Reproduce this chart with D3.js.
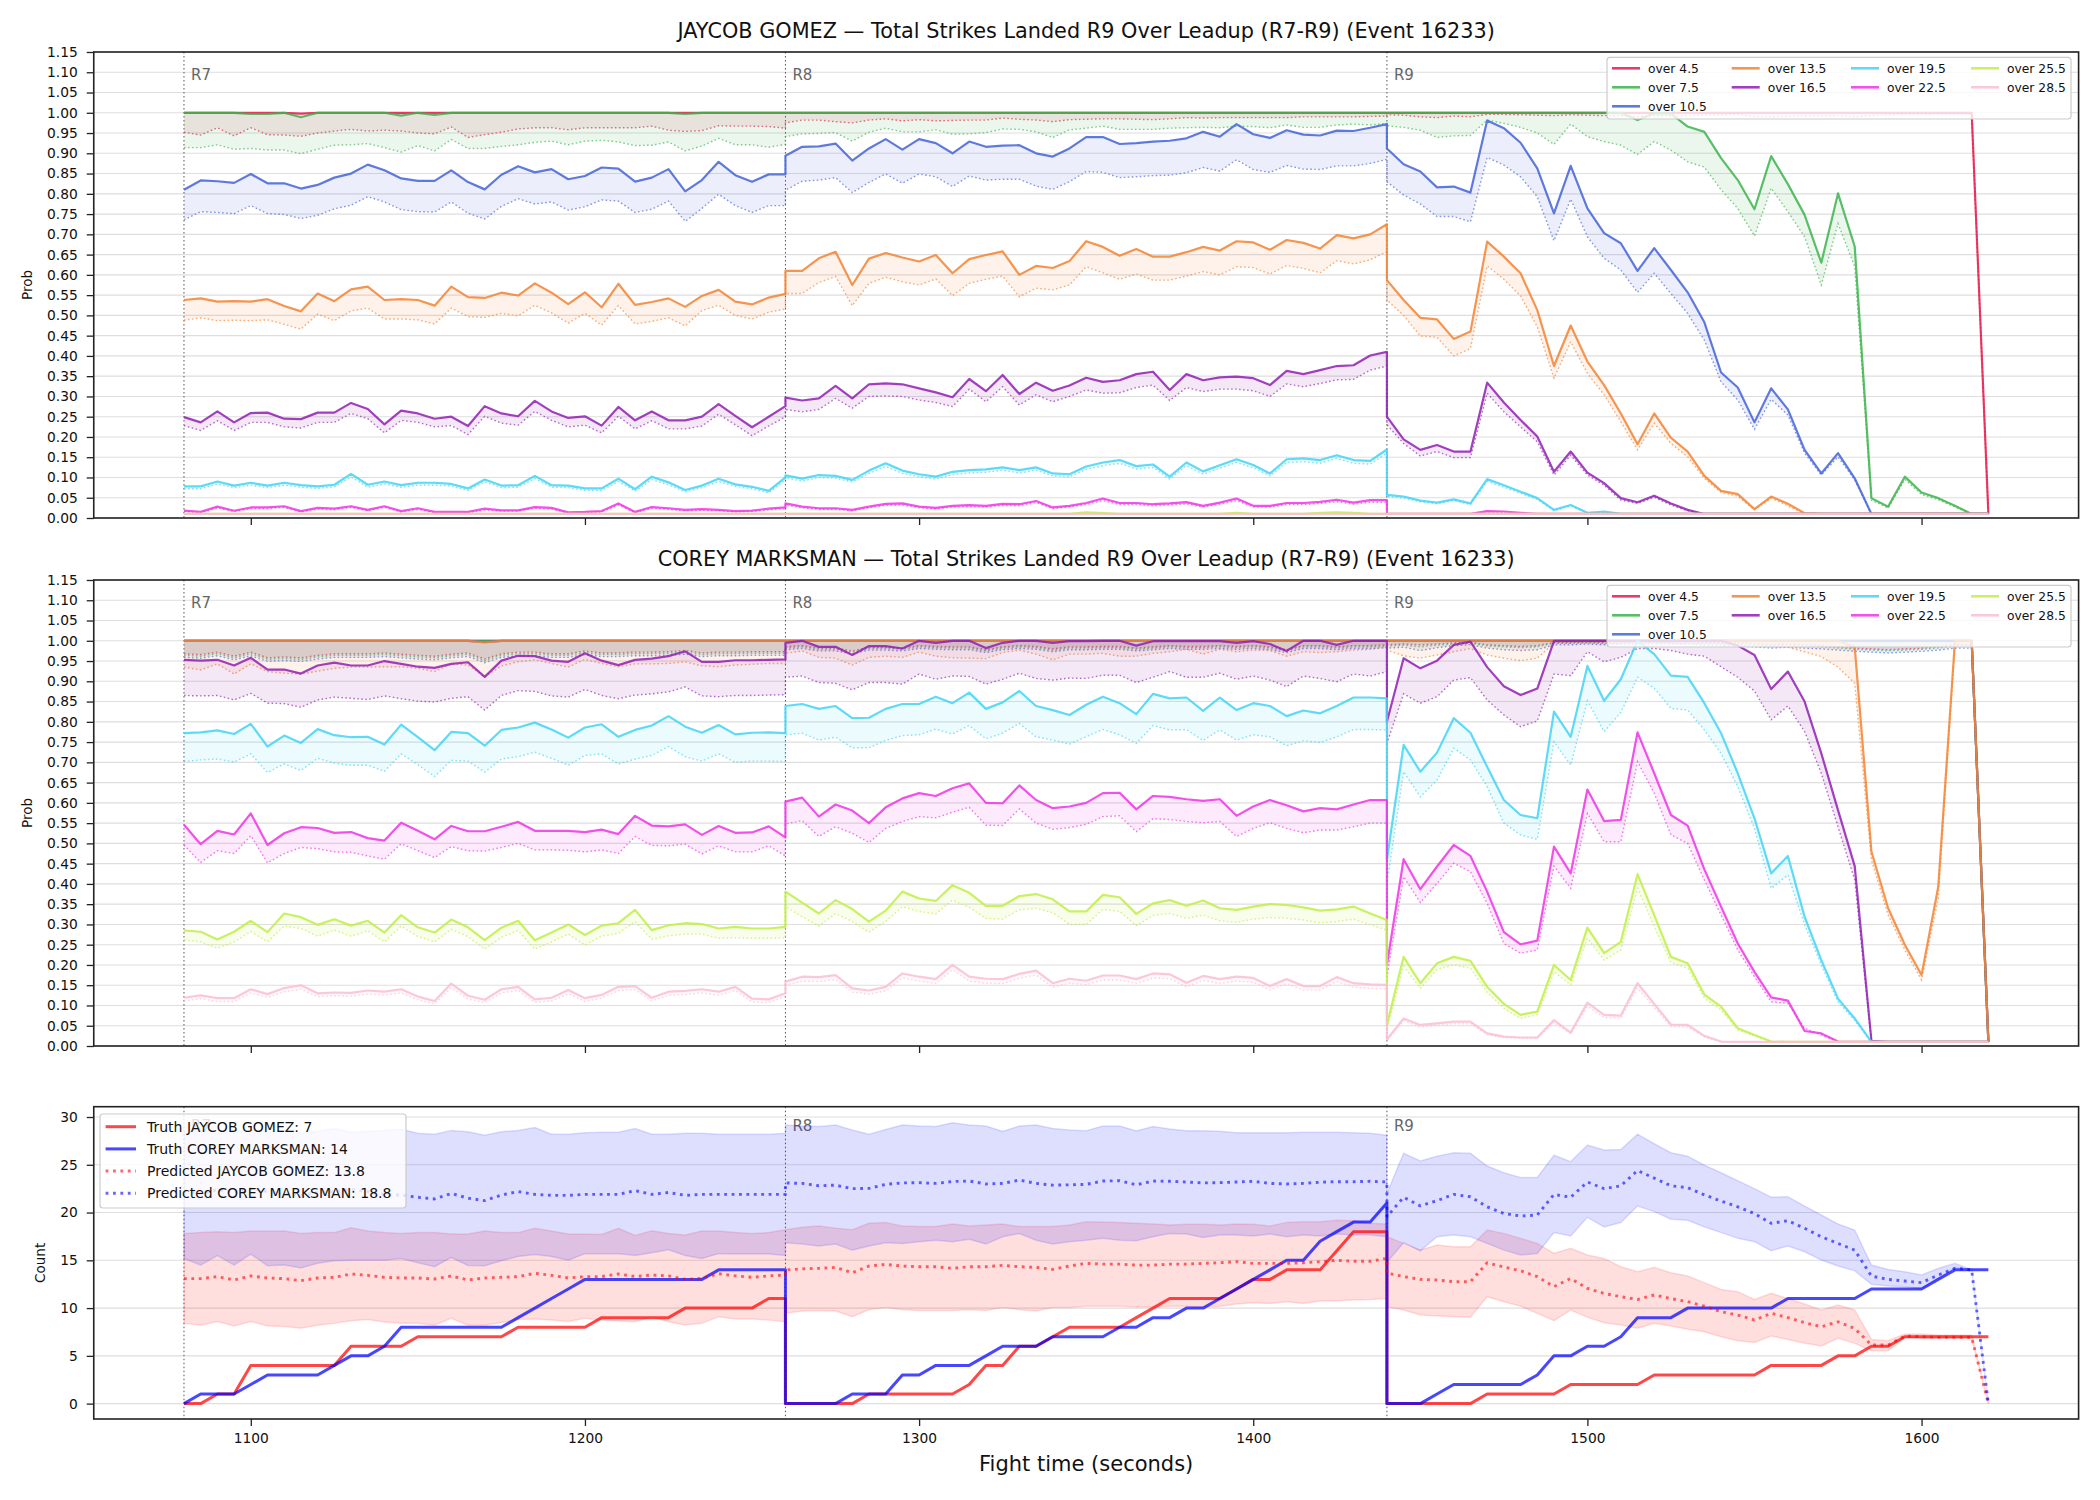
<!DOCTYPE html>
<html>
<head>
<meta charset="utf-8">
<script src="https://cdn.jsdelivr.net/npm/d3@7"></script>
<style>
  body { margin: 0; background: #fff; }
  svg text { font-family: "DejaVu Sans", sans-serif; }
</style>
</head>
<body>
<svg id="chart" width="2100" height="1500"></svg>
<script>
// rounds, sampled every 5 s (each round keeps its own 37 points, so boundaries are vertical jumps)
const roundStarts = [1080, 1260, 1440];
const roundNames = ["R7", "R8", "R9"];
const offsets = d3.range(0, 181, 5);
const times = roundStarts.flatMap(s => offsets.map(o => s + o));

const lineLabels = ["over 4.5", "over 7.5", "over 10.5", "over 13.5", "over 16.5",
                    "over 19.5", "over 22.5", "over 25.5", "over 28.5"];
const lineColors = ["#e6194b", "#3cb44b", "#4363d8", "#f58231", "#911eb4",
                    "#42d4f4", "#f032e6", "#bfef45", "#fabed4"];
const xTicks = [1100, 1200, 1300, 1400, 1500, 1600];
const probTicks = d3.range(0, 24).map(i => i / 20);
const countTicks = [0, 5, 10, 15, 20, 25, 30];

// ---- JAYCOB GOMEZ: solid = current prob, dot = dotted reference line ----
const g45 = [1,1,1,1,1,1,1,0.998,1,1, 1,1,1,1,1,1,1,1,1,1, 1,1,1,1,1,1,1,1,1,1, 1,1,1,1,1,1,1,
  1,1,1,1,1,1,1,1,1,1, 1,1,1,1,1,1,1,1,1,1, 1,1,1,1,1,1,1,1,1,1, 1,1,1,1,1,1,1,
  1,1,1,1,1,1,1,1,1,1, 1,1,1,1,1,1,1,1,1,1, 1,1,1,1,1,1,1,1,1,1, 1,1,1,1,1,1,0.01];
const g45dot = [0.952,0.945,0.963,0.943,0.963,0.946,0.945,0.942,0.95,0.955, 0.959,0.955,0.957,0.955,0.95,0.948,0.965,0.939,0.946,0.952, 0.96,0.963,0.963,0.958,0.963,0.963,0.963,0.963,0.967,0.957, 0.954,0.956,0.968,0.967,0.967,0.966,0.962,
  0.975,0.982,0.982,0.978,0.975,0.982,0.985,0.98,0.983,0.98, 0.981,0.982,0.982,0.987,0.984,0.982,0.978,0.983,0.984,0.985, 0.985,0.984,0.983,0.985,0.988,0.987,0.988,0.988,0.988,0.988, 0.988,0.99,0.99,0.99,0.99,0.991,0.992,
  0.995,0.994,0.99,0.988,0.992,0.99,0.996,0.996,0.995,0.994, 0.993,0.995,0.994,0.993,0.993,0.99,0.993,0.992,0.993,0.994, 0.995,0.996,0.99,0.99,0.991,0.992,0.992,0.993,0.99,0.993, 0.995,0.996,0.996,0.997,0.997,0.997,0.01];
const g75 = [1,1,1,1,0.997,0.997,1,0.989,1,1, 1,1,1,0.993,1,0.995,1,1,1,1, 1,1,1,1,1,1,1,1,1,1, 0.997,1,1,1,1,1,1,
  1,1,1,1,1,1,1,1,1,1, 1,1,1,1,1,1,1,1,1,1, 1,1,1,1,1,1,1,1,1,1, 1,1,1,1,1,1,1,
  1,1,1,1,1,1,1,1,1,1, 1,1,1,1,1,0.982,0.999,0.998,0.966,0.953, 0.888,0.834,0.762,0.893,0.824,0.748,0.63,0.801,0.67,0.049, 0.028,0.102,0.063,0.049,0.03,0.01,0.01];
const g75dot = [0.914,0.914,0.921,0.91,0.912,0.908,0.908,0.899,0.91,0.92, 0.921,0.924,0.914,0.903,0.919,0.906,0.934,0.912,0.912,0.917, 0.921,0.927,0.93,0.921,0.93,0.932,0.928,0.919,0.92,0.928, 0.906,0.918,0.937,0.921,0.921,0.915,0.922,
  0.941,0.948,0.949,0.951,0.93,0.952,0.962,0.953,0.953,0.958, 0.947,0.948,0.951,0.96,0.959,0.953,0.939,0.958,0.962,0.967, 0.959,0.959,0.959,0.962,0.963,0.964,0.963,0.967,0.966,0.963, 0.97,0.964,0.964,0.97,0.972,0.97,0.974,
  0.968,0.964,0.957,0.939,0.943,0.944,0.982,0.974,0.964,0.95, 0.922,0.972,0.941,0.929,0.92,0.897,0.929,0.908,0.879,0.866, 0.81,0.764,0.696,0.814,0.756,0.694,0.575,0.727,0.62,0.044, 0.025,0.095,0.058,0.045,0.027,0.01,0.01];
const g105 = [0.81,0.833,0.831,0.827,0.849,0.826,0.826,0.813,0.822,0.84, 0.85,0.872,0.858,0.838,0.832,0.832,0.858,0.829,0.811,0.847, 0.868,0.853,0.861,0.836,0.844,0.865,0.862,0.83,0.84,0.861, 0.806,0.834,0.879,0.846,0.83,0.848,0.848,
  0.894,0.916,0.917,0.924,0.882,0.912,0.935,0.909,0.935,0.925, 0.9,0.929,0.916,0.919,0.92,0.9,0.892,0.912,0.94,0.94, 0.923,0.925,0.929,0.931,0.937,0.953,0.941,0.972,0.947,0.938, 0.957,0.946,0.944,0.956,0.955,0.963,0.972,
  0.912,0.873,0.855,0.816,0.818,0.803,0.981,0.962,0.926,0.863, 0.752,0.869,0.764,0.703,0.678,0.61,0.666,0.612,0.557,0.483, 0.359,0.322,0.236,0.32,0.268,0.168,0.11,0.16,0.098,0.01, 0.01,0.01,0.01,0.01,0.01,0.01,0.01];
const g105dot = [0.736,0.756,0.754,0.751,0.771,0.751,0.749,0.739,0.747,0.763, 0.772,0.793,0.78,0.761,0.756,0.755,0.78,0.752,0.738,0.769, 0.788,0.775,0.78,0.76,0.768,0.785,0.782,0.754,0.762,0.782, 0.732,0.764,0.799,0.771,0.754,0.771,0.771,
  0.809,0.831,0.834,0.84,0.803,0.828,0.849,0.826,0.849,0.842, 0.818,0.844,0.834,0.836,0.836,0.819,0.811,0.83,0.855,0.853, 0.84,0.842,0.845,0.846,0.852,0.865,0.856,0.884,0.86,0.853, 0.87,0.861,0.86,0.869,0.869,0.875,0.885,
  0.83,0.797,0.775,0.744,0.744,0.731,0.89,0.871,0.842,0.793, 0.684,0.787,0.694,0.641,0.612,0.557,0.604,0.554,0.505,0.439, 0.336,0.291,0.219,0.293,0.254,0.16,0.106,0.151,0.094,0.01, 0.01,0.01,0.01,0.01,0.01,0.01,0.01];
const g135 = [0.538,0.542,0.534,0.535,0.534,0.54,0.523,0.51,0.554,0.535, 0.564,0.571,0.538,0.54,0.538,0.524,0.571,0.545,0.543,0.556, 0.549,0.579,0.556,0.528,0.557,0.52,0.578,0.526,0.533,0.542, 0.521,0.548,0.563,0.534,0.527,0.544,0.553,
  0.61,0.61,0.641,0.657,0.575,0.64,0.654,0.643,0.633,0.649, 0.604,0.639,0.649,0.658,0.6,0.622,0.617,0.634,0.683,0.669, 0.647,0.664,0.645,0.645,0.656,0.669,0.66,0.683,0.68,0.662, 0.686,0.679,0.665,0.698,0.69,0.7,0.725,
  0.587,0.538,0.494,0.49,0.442,0.46,0.682,0.645,0.604,0.513, 0.375,0.475,0.386,0.328,0.258,0.182,0.258,0.198,0.164,0.104, 0.067,0.059,0.022,0.053,0.035,0.012,0.01,0.01,0.01,0.01, 0.01,0.01,0.01,0.01,0.01,0.01,0.01];
const g135dot = [0.488,0.494,0.487,0.488,0.487,0.489,0.478,0.466,0.503,0.487, 0.511,0.518,0.491,0.491,0.489,0.479,0.518,0.497,0.495,0.505, 0.499,0.525,0.506,0.481,0.505,0.476,0.524,0.479,0.485,0.494, 0.474,0.512,0.525,0.5,0.491,0.508,0.516,
  0.554,0.554,0.581,0.596,0.524,0.579,0.594,0.583,0.575,0.59, 0.549,0.579,0.589,0.597,0.546,0.567,0.563,0.575,0.62,0.605, 0.589,0.602,0.587,0.587,0.597,0.608,0.6,0.62,0.618,0.602, 0.623,0.616,0.605,0.635,0.627,0.637,0.657,
  0.538,0.5,0.449,0.446,0.4,0.418,0.622,0.589,0.548,0.472, 0.345,0.435,0.357,0.304,0.238,0.168,0.234,0.184,0.151,0.098, 0.063,0.054,0.02,0.049,0.03,0.01,0.01,0.01,0.01,0.01, 0.01,0.01,0.01,0.01,0.01,0.01,0.01];
const g165 = [0.249,0.236,0.263,0.236,0.259,0.26,0.245,0.244,0.26,0.26, 0.284,0.269,0.231,0.265,0.258,0.245,0.25,0.227,0.276,0.258, 0.251,0.289,0.263,0.247,0.251,0.228,0.274,0.241,0.263,0.241, 0.241,0.25,0.281,0.252,0.224,0.25,0.276,
  0.297,0.29,0.295,0.326,0.295,0.33,0.332,0.33,0.32,0.31, 0.298,0.343,0.313,0.353,0.306,0.334,0.314,0.327,0.346,0.336, 0.34,0.355,0.361,0.316,0.355,0.34,0.347,0.349,0.345,0.328, 0.363,0.355,0.365,0.375,0.377,0.401,0.41,
  0.25,0.194,0.168,0.18,0.164,0.164,0.334,0.285,0.242,0.201, 0.114,0.164,0.112,0.086,0.049,0.039,0.055,0.036,0.02,0.01, 0.01,0.01,0.01,0.01,0.01,0.01,0.01,0.01,0.01,0.01, 0.01,0.01,0.01,0.01,0.01,0.01,0.01];
const g165dot = [0.228,0.216,0.24,0.216,0.236,0.236,0.225,0.222,0.236,0.236, 0.258,0.245,0.21,0.241,0.236,0.225,0.228,0.206,0.251,0.234, 0.229,0.263,0.241,0.225,0.229,0.21,0.251,0.22,0.24,0.22, 0.22,0.227,0.256,0.23,0.203,0.227,0.25,
  0.268,0.262,0.268,0.295,0.271,0.3,0.301,0.3,0.291,0.285, 0.275,0.318,0.287,0.324,0.279,0.304,0.287,0.3,0.316,0.308, 0.309,0.322,0.328,0.29,0.322,0.312,0.318,0.318,0.314,0.3, 0.331,0.324,0.332,0.341,0.342,0.365,0.375,
  0.23,0.184,0.153,0.164,0.149,0.149,0.308,0.262,0.225,0.188, 0.106,0.155,0.106,0.081,0.044,0.036,0.051,0.032,0.018,0.01, 0.01,0.01,0.01,0.01,0.01,0.01,0.01,0.01,0.01,0.01, 0.01,0.01,0.01,0.01,0.01,0.01,0.01];
const g195 = [0.078,0.078,0.09,0.08,0.087,0.08,0.087,0.081,0.078,0.082, 0.109,0.082,0.09,0.081,0.087,0.087,0.084,0.073,0.095,0.08, 0.081,0.104,0.081,0.08,0.073,0.073,0.097,0.071,0.102,0.088, 0.069,0.08,0.097,0.083,0.077,0.067,0.1,
  0.105,0.097,0.106,0.104,0.094,0.117,0.135,0.117,0.108,0.102, 0.114,0.118,0.12,0.125,0.118,0.125,0.11,0.108,0.127,0.137, 0.143,0.128,0.132,0.102,0.137,0.115,0.13,0.145,0.131,0.11, 0.145,0.147,0.143,0.155,0.143,0.141,0.169,
  0.057,0.053,0.043,0.038,0.046,0.036,0.096,0.081,0.065,0.049, 0.02,0.032,0.013,0.016,0.01,0.01,0.01,0.01,0.01,0.01, 0.01,0.01,0.01,0.01,0.01,0.01,0.01,0.01,0.01,0.01, 0.01,0.01,0.01,0.01,0.01,0.01,0.01];
const g195dot = [0.072,0.072,0.084,0.075,0.081,0.075,0.081,0.076,0.073,0.077, 0.101,0.076,0.084,0.076,0.081,0.081,0.079,0.068,0.089,0.075, 0.076,0.097,0.076,0.075,0.068,0.068,0.09,0.066,0.095,0.082, 0.064,0.075,0.09,0.078,0.072,0.062,0.094,
  0.099,0.091,0.1,0.098,0.089,0.11,0.127,0.11,0.102,0.096, 0.107,0.111,0.113,0.118,0.111,0.118,0.104,0.102,0.12,0.129, 0.135,0.121,0.125,0.096,0.129,0.108,0.123,0.137,0.124,0.104, 0.137,0.139,0.135,0.147,0.135,0.133,0.16,
  0.053,0.049,0.04,0.035,0.043,0.033,0.09,0.076,0.061,0.046, 0.018,0.03,0.012,0.014,0.01,0.01,0.01,0.01,0.01,0.01, 0.01,0.01,0.01,0.01,0.01,0.01,0.01,0.01,0.01,0.01, 0.01,0.01,0.01,0.01,0.01,0.01,0.01];
const g225 = [0.018,0.015,0.028,0.018,0.026,0.026,0.029,0.017,0.025,0.023, 0.029,0.02,0.029,0.017,0.024,0.015,0.015,0.015,0.023,0.019, 0.019,0.027,0.025,0.014,0.015,0.017,0.036,0.015,0.027,0.024, 0.02,0.022,0.02,0.017,0.018,0.023,0.026,
  0.036,0.028,0.024,0.024,0.02,0.028,0.035,0.036,0.028,0.025, 0.03,0.032,0.03,0.035,0.034,0.042,0.026,0.03,0.037,0.048, 0.037,0.037,0.034,0.036,0.039,0.03,0.038,0.048,0.03,0.03, 0.037,0.037,0.04,0.045,0.038,0.044,0.044,
  0.01,0.01,0.01,0.01,0.01,0.01,0.017,0.016,0.013,0.01, 0.01,0.01,0.01,0.01,0.01,0.01,0.01,0.01,0.01,0.01, 0.01,0.01,0.01,0.01,0.01,0.01,0.01,0.01,0.01,0.01, 0.01,0.01,0.01,0.01,0.01,0.01,0.01];
const g225dot = [0.016,0.013,0.025,0.016,0.023,0.023,0.026,0.015,0.022,0.02, 0.026,0.018,0.026,0.015,0.021,0.013,0.013,0.013,0.02,0.017, 0.017,0.024,0.022,0.012,0.013,0.015,0.032,0.013,0.024,0.021, 0.018,0.019,0.018,0.015,0.016,0.02,0.023,
  0.032,0.025,0.021,0.021,0.018,0.025,0.031,0.032,0.025,0.022, 0.027,0.028,0.027,0.031,0.03,0.038,0.023,0.027,0.033,0.043, 0.033,0.033,0.03,0.032,0.035,0.027,0.034,0.043,0.027,0.027, 0.033,0.033,0.036,0.04,0.034,0.039,0.039,
  0.01,0.01,0.01,0.01,0.01,0.01,0.015,0.014,0.012,0.01, 0.01,0.01,0.01,0.01,0.01,0.01,0.01,0.01,0.01,0.01, 0.01,0.01,0.01,0.01,0.01,0.01,0.01,0.01,0.01,0.01, 0.01,0.01,0.01,0.01,0.01,0.01,0.01];
const g255 = [0.01,0.01,0.01,0.01,0.01,0.01,0.01,0.01,0.01,0.01, 0.01,0.01,0.01,0.01,0.01,0.01,0.01,0.01,0.01,0.01, 0.01,0.01,0.01,0.01,0.01,0.01,0.01,0.01,0.01,0.01, 0.01,0.01,0.01,0.01,0.01,0.01,0.01,
  0.01,0.01,0.01,0.01,0.01,0.01,0.01,0.01,0.01,0.01, 0.01,0.01,0.01,0.01,0.01,0.01,0.01,0.01,0.014,0.012, 0.01,0.01,0.01,0.01,0.01,0.01,0.01,0.013,0.01,0.01, 0.01,0.01,0.013,0.014,0.013,0.01,0.01,
  0.01,0.01,0.01,0.01,0.01,0.01,0.01,0.01,0.01,0.01, 0.01,0.01,0.01,0.01,0.01,0.01,0.01,0.01,0.01,0.01, 0.01,0.01,0.01,0.01,0.01,0.01,0.01,0.01,0.01,0.01, 0.01,0.01,0.01,0.01,0.01,0.01,0.01];
const g255dot = [0.01,0.01,0.01,0.01,0.01,0.01,0.01,0.01,0.01,0.01, 0.01,0.01,0.01,0.01,0.01,0.01,0.01,0.01,0.01,0.01, 0.01,0.01,0.01,0.01,0.01,0.01,0.01,0.01,0.01,0.01, 0.01,0.01,0.01,0.01,0.01,0.01,0.01,
  0.01,0.01,0.01,0.01,0.01,0.01,0.01,0.01,0.01,0.01, 0.01,0.01,0.01,0.01,0.01,0.01,0.01,0.01,0.012,0.011, 0.01,0.01,0.01,0.01,0.01,0.01,0.01,0.011,0.01,0.01, 0.01,0.01,0.011,0.012,0.011,0.01,0.01,
  0.01,0.01,0.01,0.01,0.01,0.01,0.01,0.01,0.01,0.01, 0.01,0.01,0.01,0.01,0.01,0.01,0.01,0.01,0.01,0.01, 0.01,0.01,0.01,0.01,0.01,0.01,0.01,0.01,0.01,0.01, 0.01,0.01,0.01,0.01,0.01,0.01,0.01];
const g285 = [0.01,0.01,0.01,0.01,0.01,0.01,0.01,0.01,0.01,0.01, 0.01,0.01,0.01,0.01,0.01,0.01,0.01,0.01,0.01,0.01, 0.01,0.01,0.01,0.01,0.01,0.01,0.01,0.01,0.01,0.01, 0.01,0.01,0.01,0.01,0.01,0.01,0.01,
  0.01,0.01,0.01,0.01,0.01,0.01,0.01,0.01,0.01,0.01, 0.01,0.01,0.01,0.01,0.01,0.01,0.01,0.01,0.01,0.01, 0.01,0.01,0.01,0.01,0.01,0.01,0.01,0.01,0.01,0.01, 0.01,0.01,0.01,0.01,0.01,0.01,0.01,
  0.01,0.01,0.01,0.01,0.01,0.01,0.01,0.01,0.01,0.01, 0.01,0.01,0.01,0.01,0.01,0.01,0.01,0.01,0.01,0.01, 0.01,0.01,0.01,0.01,0.01,0.01,0.01,0.01,0.01,0.01, 0.01,0.01,0.01,0.01,0.01,0.01,0.01];
const g285dot = g285.slice();

// ---- COREY MARKSMAN ----
const m45 = [1,1,1,1,1,1,1,1,1,1, 1,1,1,1,1,1,1,1,1,1, 1,1,1,1,1,1,1,1,1,1, 1,1,1,1,1,1,1,
  1,1,1,1,1,1,1,1,1,1, 1,1,1,1,1,1,1,1,1,1, 1,1,1,1,1,1,1,1,1,1, 1,1,1,1,1,1,1,
  1,1,1,1,1,1,1,1,1,1, 1,1,1,1,1,1,1,1,1,1, 1,1,1,1,1,1,1,1,1,1, 1,1,1,1,1,1,0.01];
const m45dot = [0.968,0.966,0.972,0.962,0.972,0.958,0.96,0.958,0.964,0.968, 0.968,0.968,0.97,0.967,0.964,0.962,0.967,0.97,0.955,0.968, 0.972,0.972,0.968,0.968,0.975,0.97,0.97,0.972,0.972,0.973, 0.976,0.97,0.972,0.972,0.973,0.973,0.973,
  0.985,0.988,0.982,0.982,0.975,0.984,0.984,0.982,0.988,0.986, 0.985,0.985,0.978,0.985,0.988,0.986,0.98,0.985,0.985,0.986, 0.986,0.982,0.985,0.988,0.986,0.986,0.988,0.986,0.988,0.985, 0.978,0.988,0.988,0.985,0.988,0.988,0.99,
  0.99,0.992,0.99,0.992,0.995,0.996,0.99,0.988,0.986,0.988, 0.996,0.996,0.997,0.996,0.997,0.998,0.998,0.997,0.997,0.996, 0.996,0.995,0.993,0.99,0.992,0.99,0.988,0.985,0.982,0.98, 0.978,0.98,0.982,0.985,0.99,0.99,0.01];
const m75 = m45.slice();
const m75dot = [0.964,0.962,0.968,0.958,0.968,0.954,0.956,0.954,0.96,0.964, 0.964,0.964,0.966,0.963,0.96,0.958,0.963,0.966,0.951,0.964, 0.968,0.968,0.964,0.964,0.971,0.966,0.966,0.968,0.968,0.969, 0.972,0.966,0.968,0.968,0.969,0.969,0.969,
  0.982,0.985,0.979,0.979,0.972,0.981,0.981,0.979,0.985,0.983, 0.982,0.982,0.975,0.982,0.985,0.983,0.977,0.982,0.982,0.983, 0.983,0.979,0.982,0.985,0.983,0.983,0.985,0.983,0.985,0.982, 0.975,0.985,0.985,0.982,0.985,0.985,0.987,
  0.987,0.989,0.985,0.989,0.992,0.994,0.987,0.985,0.983,0.985, 0.994,0.994,0.995,0.994,0.995,0.996,0.996,0.995,0.995,0.994, 0.994,0.993,0.99,0.987,0.989,0.987,0.985,0.982,0.979,0.977, 0.975,0.977,0.979,0.982,0.987,0.987,0.01];
const m105 = [1,1,1,1,1,1,1,1,1,1, 1,1,1,1,1,1,1,1,0.997,1, 1,1,1,1,1,1,1,1,1,1, 1,1,1,1,1,1,1,
  1,1,1,1,1,1,1,1,1,1, 1,1,1,1,1,1,1,1,1,1, 1,1,1,1,1,1,1,1,1,1, 1,1,1,1,1,1,1,
  1,1,1,1,1,1,1,1,1,1, 1,1,1,1,1,1,1,1,1,1, 1,1,1,1,1,1,1,1,1,1, 1,1,1,1,1,1,0.01];
const m105dot = [0.959,0.957,0.963,0.953,0.963,0.949,0.951,0.949,0.955,0.959, 0.959,0.959,0.961,0.958,0.955,0.953,0.958,0.961,0.946,0.959, 0.963,0.963,0.959,0.959,0.966,0.961,0.961,0.963,0.963,0.964, 0.967,0.961,0.963,0.963,0.964,0.964,0.964,
  0.978,0.981,0.975,0.975,0.968,0.977,0.977,0.975,0.981,0.979, 0.978,0.978,0.971,0.978,0.981,0.979,0.973,0.978,0.978,0.979, 0.979,0.975,0.978,0.981,0.979,0.979,0.981,0.979,0.981,0.978, 0.971,0.981,0.981,0.978,0.981,0.981,0.983,
  0.982,0.984,0.976,0.983,0.988,0.99,0.982,0.978,0.976,0.978, 0.99,0.99,0.992,0.99,0.992,0.993,0.993,0.992,0.992,0.99, 0.99,0.988,0.985,0.982,0.984,0.982,0.98,0.977,0.974,0.972, 0.97,0.972,0.974,0.977,0.982,0.982,0.01];
const m135 = [1,1,1,1,1,1,1,1,1,1, 1,1,1,1,1,1,1,1,0.996,1, 1,1,1,1,1,1,1,1,1,1, 1,1,1,1,1,1,1,
  1,1,1,1,1,1,1,1,1,1, 1,1,1,1,1,1,1,1,1,1, 1,1,1,1,1,1,1,1,1,1, 1,1,1,1,1,1,1,
  1,1,1,1,1,1,1,1,1,1, 1,1,1,1,1,1,1,1,1,1, 1,1,1,1,1,1,1,1,0.985,0.48, 0.34,0.25,0.175,0.393,1,1,0.01];
const m135dot = [0.935,0.928,0.943,0.918,0.943,0.924,0.92,0.918,0.925,0.932, 0.935,0.935,0.936,0.936,0.932,0.924,0.943,0.94,0.911,0.938, 0.948,0.953,0.944,0.935,0.954,0.944,0.936,0.943,0.943,0.944, 0.948,0.938,0.936,0.94,0.942,0.944,0.944,
  0.969,0.975,0.959,0.957,0.94,0.959,0.962,0.959,0.972,0.962, 0.958,0.957,0.956,0.971,0.977,0.967,0.953,0.967,0.967,0.969, 0.962,0.962,0.969,0.973,0.979,0.967,0.979,0.973,0.977,0.976, 0.962,0.973,0.971,0.973,0.977,0.979,0.984,
  0.977,0.963,0.957,0.965,0.973,0.981,0.965,0.957,0.951,0.957, 0.994,0.994,0.995,0.993,0.994,0.995,0.995,0.994,0.993,0.993, 0.992,0.99,0.988,0.986,0.984,0.973,0.961,0.935,0.895,0.459, 0.323,0.237,0.163,0.364,0.99,0.99,0.01];
const m165 = [0.953,0.951,0.953,0.939,0.958,0.929,0.929,0.919,0.939,0.946, 0.939,0.939,0.95,0.943,0.936,0.933,0.943,0.947,0.911,0.951, 0.963,0.962,0.951,0.948,0.969,0.951,0.94,0.953,0.956,0.962, 0.974,0.948,0.948,0.952,0.952,0.953,0.954,
  0.995,1,0.985,0.985,0.965,0.987,0.987,0.981,1,0.995, 1,1,0.982,0.995,1,1,0.995,0.999,0.999,1, 1,0.988,0.999,0.999,0.999,0.999,0.999,0.995,0.999,0.992, 0.975,1,1,0.99,1,1,1,
  0.8,0.957,0.932,0.951,0.99,0.998,0.935,0.888,0.866,0.882, 1,1,1,1,1,1,1,1,1,1, 1,0.988,0.965,0.881,0.924,0.85,0.722,0.582,0.444,0.013, 0.01,0.01,0.01,0.01,0.01,0.01,0.01];
const m165dot = [0.865,0.864,0.865,0.854,0.87,0.846,0.845,0.836,0.854,0.861, 0.858,0.855,0.864,0.857,0.851,0.849,0.858,0.862,0.829,0.865, 0.877,0.875,0.864,0.861,0.88,0.865,0.857,0.866,0.869,0.874, 0.886,0.864,0.862,0.865,0.865,0.866,0.867,
  0.91,0.913,0.897,0.895,0.879,0.897,0.897,0.893,0.918,0.905, 0.913,0.912,0.893,0.905,0.92,0.907,0.903,0.908,0.907,0.915, 0.915,0.897,0.91,0.924,0.91,0.91,0.92,0.905,0.913,0.903, 0.887,0.913,0.907,0.899,0.918,0.913,0.924,
  0.747,0.869,0.846,0.862,0.903,0.909,0.854,0.817,0.788,0.802, 0.918,0.914,0.973,0.948,0.959,0.981,0.981,0.976,0.967,0.962, 0.936,0.91,0.876,0.805,0.839,0.776,0.673,0.541,0.41,0.011, 0.01,0.01,0.01,0.01,0.01,0.01,0.01];
const m195 = [0.772,0.774,0.779,0.77,0.795,0.739,0.766,0.748,0.782,0.767, 0.762,0.763,0.744,0.793,0.762,0.73,0.775,0.772,0.741,0.78, 0.786,0.798,0.781,0.761,0.786,0.794,0.763,0.78,0.791,0.814, 0.788,0.773,0.792,0.769,0.773,0.774,0.772,
  0.839,0.844,0.832,0.839,0.809,0.81,0.832,0.844,0.844,0.862, 0.846,0.872,0.832,0.848,0.876,0.839,0.829,0.817,0.842,0.862, 0.846,0.819,0.869,0.858,0.86,0.827,0.86,0.829,0.846,0.839, 0.814,0.828,0.821,0.839,0.86,0.86,0.858,
  0.46,0.743,0.677,0.724,0.809,0.773,0.689,0.607,0.57,0.562, 0.825,0.763,0.938,0.852,0.905,1,0.967,0.914,0.911,0.846, 0.772,0.673,0.562,0.426,0.469,0.319,0.212,0.117,0.068,0.01, 0.01,0.01,0.01,0.01,0.01,0.01,0.01];
const m195dot = [0.702,0.706,0.708,0.701,0.721,0.675,0.696,0.68,0.71,0.698, 0.693,0.693,0.678,0.721,0.694,0.665,0.705,0.703,0.676,0.708, 0.714,0.725,0.71,0.693,0.717,0.721,0.696,0.708,0.717,0.739, 0.714,0.703,0.721,0.7,0.703,0.703,0.702,
  0.768,0.772,0.755,0.762,0.736,0.736,0.754,0.766,0.768,0.782, 0.77,0.791,0.758,0.772,0.796,0.763,0.755,0.745,0.763,0.781, 0.768,0.747,0.791,0.78,0.781,0.754,0.78,0.755,0.768,0.763, 0.741,0.753,0.749,0.763,0.781,0.781,0.78,
  0.4,0.677,0.615,0.656,0.735,0.706,0.64,0.55,0.521,0.51, 0.751,0.693,0.852,0.776,0.823,0.91,0.883,0.833,0.829,0.78, 0.722,0.64,0.537,0.389,0.422,0.299,0.2,0.109,0.063,0.01, 0.01,0.01,0.01,0.01,0.01,0.01,0.01];
const m225 = [0.546,0.498,0.531,0.522,0.574,0.496,0.525,0.54,0.538,0.526, 0.528,0.513,0.507,0.551,0.531,0.51,0.543,0.53,0.53,0.541, 0.553,0.531,0.531,0.531,0.528,0.534,0.523,0.568,0.544,0.542, 0.547,0.521,0.543,0.526,0.527,0.542,0.515,
  0.603,0.613,0.566,0.596,0.581,0.55,0.589,0.611,0.624,0.617, 0.636,0.648,0.6,0.599,0.643,0.607,0.587,0.591,0.6,0.624, 0.625,0.584,0.617,0.615,0.609,0.605,0.609,0.568,0.591,0.607, 0.594,0.579,0.587,0.584,0.596,0.607,0.607,
  0.2,0.461,0.387,0.443,0.496,0.469,0.381,0.281,0.251,0.26, 0.492,0.426,0.633,0.555,0.558,0.774,0.673,0.57,0.544,0.436, 0.344,0.253,0.183,0.12,0.112,0.037,0.031,0.011,0.01,0.01, 0.01,0.01,0.01,0.01,0.01,0.01,0.01];
const m225dot = [0.496,0.453,0.482,0.475,0.519,0.452,0.475,0.49,0.487,0.479, 0.478,0.469,0.461,0.499,0.482,0.465,0.492,0.482,0.481,0.49, 0.5,0.484,0.484,0.483,0.479,0.484,0.475,0.517,0.495,0.494, 0.498,0.474,0.494,0.479,0.479,0.494,0.469,
  0.548,0.556,0.517,0.541,0.525,0.502,0.537,0.554,0.566,0.563, 0.577,0.589,0.545,0.544,0.585,0.55,0.535,0.539,0.547,0.566, 0.568,0.529,0.561,0.559,0.554,0.551,0.554,0.517,0.537,0.551, 0.537,0.526,0.533,0.533,0.541,0.55,0.55,
  0.17,0.418,0.354,0.401,0.451,0.43,0.352,0.253,0.229,0.237, 0.444,0.389,0.574,0.504,0.504,0.702,0.624,0.521,0.5,0.41, 0.323,0.237,0.171,0.109,0.105,0.044,0.027,0.011,0.01,0.01, 0.01,0.01,0.01,0.01,0.01,0.01,0.01];
const m255 = [0.285,0.282,0.263,0.282,0.309,0.281,0.327,0.318,0.299,0.313, 0.297,0.309,0.28,0.323,0.293,0.28,0.312,0.293,0.261,0.292, 0.309,0.261,0.28,0.3,0.274,0.297,0.303,0.336,0.286,0.298, 0.303,0.301,0.29,0.294,0.29,0.29,0.294,
  0.381,0.354,0.327,0.36,0.338,0.307,0.334,0.381,0.364,0.358, 0.397,0.378,0.346,0.346,0.37,0.375,0.362,0.332,0.332,0.373, 0.367,0.326,0.352,0.36,0.346,0.359,0.34,0.336,0.344,0.35, 0.348,0.342,0.334,0.337,0.344,0.327,0.311,
  0.052,0.22,0.155,0.204,0.22,0.21,0.146,0.104,0.077,0.085, 0.2,0.163,0.292,0.229,0.257,0.424,0.323,0.22,0.204,0.127, 0.097,0.044,0.027,0.011,0.01,0.01,0.01,0.01,0.01,0.01, 0.01,0.01,0.01,0.01,0.01,0.01,0.01];
const m255dot = [0.262,0.257,0.241,0.257,0.282,0.257,0.296,0.29,0.271,0.286, 0.271,0.284,0.257,0.296,0.27,0.257,0.288,0.27,0.239,0.268, 0.285,0.239,0.257,0.276,0.249,0.271,0.278,0.307,0.263,0.272, 0.276,0.276,0.266,0.267,0.266,0.266,0.267,
  0.344,0.319,0.296,0.327,0.307,0.281,0.307,0.344,0.332,0.326, 0.36,0.342,0.315,0.313,0.336,0.34,0.329,0.3,0.3,0.337, 0.332,0.297,0.322,0.327,0.315,0.323,0.309,0.305,0.313,0.317, 0.315,0.311,0.304,0.307,0.313,0.299,0.286,
  0.04,0.197,0.142,0.189,0.2,0.192,0.132,0.093,0.068,0.077, 0.183,0.151,0.266,0.212,0.237,0.389,0.295,0.206,0.192,0.118, 0.089,0.039,0.025,0.011,0.01,0.01,0.01,0.01,0.01,0.01, 0.01,0.01,0.01,0.01,0.01,0.01,0.01];
const m285 = [0.119,0.125,0.118,0.118,0.14,0.128,0.143,0.15,0.13,0.132, 0.131,0.137,0.134,0.14,0.122,0.111,0.154,0.124,0.114,0.14, 0.146,0.115,0.119,0.138,0.118,0.126,0.146,0.148,0.119,0.134, 0.136,0.14,0.134,0.146,0.117,0.115,0.13,
  0.159,0.171,0.17,0.175,0.142,0.137,0.146,0.179,0.171,0.165, 0.2,0.171,0.166,0.165,0.178,0.186,0.155,0.166,0.161,0.174, 0.174,0.165,0.179,0.177,0.156,0.173,0.165,0.171,0.168,0.148, 0.165,0.148,0.148,0.17,0.155,0.152,0.151,
  0.016,0.068,0.052,0.056,0.06,0.06,0.031,0.023,0.021,0.021, 0.064,0.033,0.107,0.077,0.075,0.155,0.104,0.053,0.052,0.025, 0.011,0.01,0.01,0.01,0.01,0.01,0.01,0.01,0.01,0.01, 0.01,0.01,0.01,0.01,0.01,0.01,0.01];
const m285dot = [0.111,0.117,0.11,0.11,0.131,0.12,0.134,0.14,0.122,0.124, 0.123,0.128,0.126,0.131,0.114,0.104,0.144,0.116,0.107,0.131, 0.137,0.108,0.111,0.129,0.11,0.118,0.137,0.139,0.111,0.125, 0.127,0.131,0.125,0.137,0.109,0.107,0.122,
  0.149,0.16,0.159,0.164,0.133,0.128,0.136,0.168,0.16,0.154, 0.188,0.16,0.155,0.154,0.167,0.175,0.145,0.155,0.151,0.163, 0.163,0.154,0.168,0.166,0.146,0.162,0.154,0.16,0.157,0.138, 0.154,0.138,0.138,0.159,0.145,0.142,0.141,
  0.014,0.062,0.047,0.051,0.055,0.055,0.028,0.021,0.019,0.019, 0.058,0.03,0.098,0.07,0.068,0.143,0.095,0.048,0.047,0.022, 0.01,0.01,0.01,0.01,0.01,0.01,0.01,0.01,0.01,0.01, 0.01,0.01,0.01,0.01,0.01,0.01,0.01];

// ---- counts panel ----
const truthGomez = [0,0,1,1,4,4,4,4,4,4, 6,6,6,6,7,7,7,7,7,7, 8,8,8,8,8,9,9,9,9,9, 10,10,10,10,10,11,11,
  0,0,0,0,0,1,1,1,1,1, 1,2,4,4,6,6,7,8,8,8, 8,9,10,11,11,11,11,12,13,13, 14,14,14,16,18,18,18,
  0,0,0,0,0,0,1,1,1,1, 1,2,2,2,2,2,3,3,3,3, 3,3,3,4,4,4,4,5,5,6, 6,7,7,7,7,7,7];
const truthMarksman = [0,1,1,1,2,3,3,3,3,4, 5,5,6,8,8,8,8,8,8,8, 9,10,11,12,13,13,13,13,13,13, 13,13,14,14,14,14,14,
  0,0,0,0,1,1,1,3,3,4, 4,4,5,6,6,6,7,7,7,7, 8,8,9,9,10,10,11,12,13,14, 15,15,17,18,19,19,21,
  0,0,0,1,2,2,2,2,2,3, 5,5,6,6,7,9,9,9,10,10, 10,10,10,10,11,11,11,11,11,12, 12,12,12,13,14,14,14];
const predGomez = [13.08,13.08,13.29,12.94,13.36,13.15,13.08,12.87,13.15,13.22, 13.57,13.43,13.22,13.15,13.15,13.04,13.36,12.94,13.15,13.22, 13.29,13.64,13.43,13.15,13.29,13.3,13.57,13.3,13.46,13.37, 13.0,13.1,13.6,13.37,13.22,13.37,13.46,
  14.0,14.1,14.16,14.26,13.7,14.4,14.57,14.4,14.33,14.33, 14.16,14.33,14.33,14.47,14.33,14.26,14.05,14.4,14.68,14.6, 14.6,14.5,14.5,14.6,14.6,14.68,14.75,14.86,14.68,14.68, 14.68,14.75,14.86,15.0,14.9,14.9,15.2,
  13.67,13.3,13.0,12.94,12.76,12.76,14.74,14.3,13.9,13.3, 12.24,13.1,12.06,11.53,11.19,10.9,11.37,11.0,10.67,10.2, 9.62,9.27,8.75,9.45,9.0,8.47,8.05,8.56,7.86,6.14, 6.14,7.07,7.0,6.94,6.94,6.94,0];
const predMarksman = [22.3,22.0,22.4,22.1,22.5,22.2,22.0,21.8,22.1,22.2, 22.4,22.2,21.9,21.83,21.6,21.42,22.0,21.5,21.25,21.83, 22.2,21.9,21.8,21.8,21.9,21.9,21.9,22.3,21.9,22.1, 21.8,21.9,21.9,21.9,21.9,21.9,21.9,
  23.1,23.05,22.8,22.87,22.5,22.53,22.95,23.1,23.13,23.05, 23.25,23.3,22.99,23.05,23.4,23.05,22.87,22.9,22.95,23.3, 23.33,22.9,23.3,23.27,23.2,23.1,23.13,23.2,23.27,23.05, 22.99,23.05,23.17,23.23,23.23,23.27,23.2,
  19.57,21.6,20.7,21.25,21.9,21.66,20.6,19.9,19.64,19.74, 21.9,21.6,23.2,22.5,22.8,24.4,23.6,22.8,22.6,21.85, 21.2,20.6,19.9,18.87,19.15,18.35,17.47,16.77,16.07,13.35, 13.0,12.83,12.66,13.46,14.16,14.0,0];
const upperGomez = [17.8,17.9,18.0,17.9,18.06,18.06,18.06,17.8,17.9,17.9, 18.4,18.06,17.9,17.8,17.9,17.9,17.75,17.75,18.06,17.9, 17.9,18.35,18.06,17.75,17.75,17.7,18.35,17.6,18.1,17.8, 17.65,18.06,18.06,17.9,17.8,17.9,18.2,
  18.2,18.47,18.6,18.37,18.2,18.87,18.97,18.6,18.53,18.53, 18.8,18.6,18.7,18.8,18.53,18.53,18.53,18.7,19.05,19.01, 18.95,18.87,18.8,18.7,18.77,18.77,18.7,18.8,18.77,18.6, 18.97,19.05,19.05,19.2,19.13,18.87,18.8,
  17.47,16.77,16.07,16.6,16.43,16.43,18.17,17.82,17.3,16.77, 15.73,16.26,15.55,15.2,14.33,13.8,14.26,13.7,13.35,12.66, 11.95,11.72,10.9,11.54,11.0,10.43,9.8,10.33,9.8,6.72, 6.59,7.3,7.3,7.18,7.18,7.18,0];
const lowerGomez = [8.4,8.2,8.6,8.13,8.6,8.13,8.06,7.9,8.2,8.4, 8.68,8.8,8.55,8.4,8.4,8.2,8.93,8.2,8.2,8.5, 8.8,8.86,8.75,8.6,8.93,8.74,8.64,8.58,9.1,8.58, 8.23,8.4,9.1,8.86,8.86,8.74,8.58,
  9.45,9.7,9.76,9.7,9.1,9.83,10.05,9.83,9.76,9.76, 9.76,9.83,9.76,10.05,9.83,9.7,10.05,10.05,10.2,10.2, 10.2,10.12,10.12,10.2,10.2,10.12,10.2,10.42,10.56,10.49, 10.66,10.49,10.73,10.77,10.84,10.9,11.0,
  10.15,9.8,9.27,9.17,9.1,9.03,11.19,10.67,10.2,9.45, 8.68,9.8,9.03,8.47,8.23,7.88,8.4,8.13,7.78,7.53, 7.0,6.59,6.39,7.07,6.72,6.31,6.03,6.84,6.31,5.54, 5.54,6.94,6.84,6.84,6.84,6.84,0];
const upperMarksman = [28.4,28.6,28.3,28.5,28.7,28.4,28.6,28.3,28.5,28.8, 28.4,28.5,28.6,28.71,28.3,28.2,28.6,28.46,28.1,28.46, 28.6,28.9,28.2,28.2,28.35,28.4,28.4,28.8,28.2,28.2, 28.3,28.3,28.2,28.2,28.2,28.2,28.3,
  29.16,29.06,29.0,29.16,28.64,28.2,28.7,29.16,29.06,29.0, 29.4,29.16,29.06,28.5,29.06,29.16,28.8,28.64,28.57,29.06, 29.06,28.55,29.0,28.75,28.55,28.55,28.5,28.36,28.36,28.36, 28.36,28.4,28.4,28.4,28.36,28.3,28.1,
  22.0,26.2,25.4,25.9,26.26,26.2,24.87,24.17,23.68,23.68, 26.0,25.33,27.07,26.54,26.6,28.2,27.2,26.26,25.9,24.97, 24.17,23.33,22.5,21.6,21.66,20.68,19.74,18.8,18.17,14.5, 14.05,13.8,13.46,14.16,14.68,14.0,0];
const lowerMarksman = [15.2,14.5,15.5,14.5,15.65,14.43,14.5,14.2,14.7,14.96, 15.0,15.0,15.0,15.2,14.75,14.33,15.3,14.47,14.43,14.96, 15.4,15.6,15.4,15.0,15.7,15.7,15.7,15.5,15.8,16.1, 15.5,15.2,15.7,15.65,15.65,15.65,15.5,
  16.84,16.7,16.5,16.7,16.07,16.5,16.84,16.77,16.95,17.1, 16.95,17.2,16.7,17.47,17.8,17.1,16.7,16.95,17.1,17.3, 17.1,17.05,17.47,17.8,17.75,17.4,17.65,17.65,17.55,17.75, 17.47,17.65,17.55,17.75,17.65,17.65,17.47,
  14.8,16.85,16.0,17.47,17.65,17.47,16.77,16.07,15.55,15.7, 17.9,17.54,19.5,18.5,18.95,20.68,20.1,19.3,19.2,18.5, 17.9,17.3,16.95,16.0,16.5,15.9,15.03,14.4,13.9,12.5, 12.3,12.24,12.06,13.1,14.26,14.0,0];

const gomezSolid = [g45, g75, g105, g135, g165, g195, g225, g255, g285];
const gomezDot = [g45dot, g75dot, g105dot, g135dot, g165dot, g195dot, g225dot, g255dot, g285dot];
const marksSolid = [m45, m75, m105, m135, m165, m195, m225, m255, m285];
const marksDot = [m45dot, m75dot, m105dot, m135dot, m165dot, m195dot, m225dot, m255dot, m285dot];

[...gomezSolid, ...gomezDot, ...marksSolid, ...marksDot, truthGomez, truthMarksman, predGomez, predMarksman,
 upperGomez, lowerGomez, upperMarksman, lowerMarksman].forEach((a, i) => {
  if (a.length !== times.length) throw new Error("series " + i + " has " + a.length + " values");
});

// ---- drawing ----
const svg = d3.select("#chart");
svg.append("rect").attr("width", 2100).attr("height", 1500).attr("fill", "#fff");
const left = 93.75, right = 2078.6;
const x = d3.scaleLinear().domain([1053, 1647]).range([left, right]);

function styleAxis(a) {
  a.select(".domain").remove();
  a.selectAll(".tick line").attr("stroke", "#222").attr("stroke-width", 1.3);
  a.selectAll(".tick text").attr("font-size", 13.8).attr("fill", "#111")
    .attr("font-family", "DejaVu Sans");
}

function grid(g, y, ticks) {
  g.append("g").selectAll("line").data(ticks).join("line")
    .attr("x1", left).attr("x2", right)
    .attr("y1", d => y(d)).attr("y2", d => y(d))
    .attr("stroke", "#dedede").attr("stroke-width", 1.1);
}

function roundMarkers(g, top, bottom, labelDy) {
  roundStarts.forEach((s, i) => {
    g.append("line").attr("x1", x(s)).attr("x2", x(s)).attr("y1", top).attr("y2", bottom)
      .attr("stroke", "#555").attr("stroke-width", 1).attr("stroke-dasharray", "1.5,2.5");
    g.append("text").attr("x", x(s) + 7).attr("y", top + labelDy).text(roundNames[i])
      .attr("font-size", 15).attr("fill", "#666");
  });
}

function frame(g, top, bottom) {
  g.append("rect").attr("x", left).attr("y", top).attr("width", right - left).attr("height", bottom - top)
    .attr("fill", "none").attr("stroke", "#222").attr("stroke-width", 1.6);
}

function probPanel(top, title, solids, dots, id) {
  const bottom = top + 466;
  const y = d3.scaleLinear().domain([0, 1.15]).range([bottom, top]);
  const g = svg.append("g");
  g.append("clipPath").attr("id", id).append("rect")
    .attr("x", left).attr("y", top).attr("width", right - left).attr("height", bottom - top);
  grid(g, y, probTicks);
  roundMarkers(g, top, bottom, 28);

  const plot = g.append("g").attr("clip-path", `url(#${id})`);
  const area = d3.area().x(d => x(d.t)).y0(d => y(d.b)).y1(d => y(d.a));
  const lineA = d3.line().x(d => x(d.t)).y(d => y(d.a));
  const lineB = d3.line().x(d => x(d.t)).y(d => y(d.b));
  lineLabels.forEach((lab, i) => {
    const pts = times.map((t, j) => ({t, a: solids[i][j], b: dots[i][j]}));
    plot.append("path").datum(pts).attr("d", area)
      .attr("fill", lineColors[i]).attr("fill-opacity", 0.1);
    plot.append("path").datum(pts).attr("d", lineB)
      .attr("fill", "none").attr("stroke", lineColors[i]).attr("stroke-opacity", 0.65)
      .attr("stroke-width", 1.4).attr("stroke-dasharray", "1.6,2.4");
    plot.append("path").datum(pts).attr("d", lineA)
      .attr("fill", "none").attr("stroke", lineColors[i]).attr("stroke-opacity", 0.85)
      .attr("stroke-width", 2.2).attr("stroke-linejoin", "round");
  });

  const ya = g.append("g").attr("transform", `translate(${left},0)`)
    .call(d3.axisLeft(y).tickValues(probTicks).tickFormat(d3.format(".2f")).tickSize(7).tickPadding(9));
  styleAxis(ya);
  const xa = g.append("g").attr("transform", `translate(0,${bottom})`)
    .call(d3.axisBottom(x).tickValues(xTicks).tickFormat("").tickSize(7));
  styleAxis(xa);
  frame(g, top, bottom);

  g.append("text").attr("x", (left + right) / 2).attr("y", top - 14).attr("text-anchor", "middle")
    .attr("font-size", 20.8).attr("fill", "#111").text(title);
  g.append("text").attr("transform", `translate(32,${(top + bottom) / 2}) rotate(-90)`)
    .attr("text-anchor", "middle").attr("font-size", 13.5).attr("fill", "#111").text("Prob");

  // legend, 4 columns filled column by column
  const lg = g.append("g");
  lg.append("rect").attr("x", 1607).attr("y", top + 5.3).attr("width", 464).attr("height", 61.7)
    .attr("rx", 3).attr("fill", "#fff").attr("fill-opacity", 0.8)
    .attr("stroke", "#cccccc").attr("stroke-width", 1.2);
  const colX = [1612, 1731.7, 1851, 1971];
  const slots = [[0,0],[0,1],[0,2],[1,0],[1,1],[2,0],[2,1],[3,0],[3,1]];
  lineLabels.forEach((lab, i) => {
    const cx = colX[slots[i][0]], cy = top + 16.3 + slots[i][1] * 19;
    lg.append("line").attr("x1", cx).attr("x2", cx + 28).attr("y1", cy).attr("y2", cy)
      .attr("stroke", lineColors[i]).attr("stroke-opacity", 0.85).attr("stroke-width", 2.6);
    lg.append("text").attr("x", cx + 36).attr("y", cy + 4.4).attr("font-size", 12.3)
      .attr("fill", "#111").text(lab);
  });
}

probPanel(52, "JAYCOB GOMEZ \u2014 Total Strikes Landed R9 Over Leadup (R7-R9) (Event 16233)", gomezSolid, gomezDot, "clipA");
probPanel(580, "COREY MARKSMAN \u2014 Total Strikes Landed R9 Over Leadup (R7-R9) (Event 16233)", marksSolid, marksDot, "clipB");

// ---- counts panel ----
(function countPanel() {
  const top = 1106.7, bottom = 1419;
  const y = d3.scaleLinear().domain([-1.61, 31.08]).range([bottom, top]);
  const g = svg.append("g");
  g.append("clipPath").attr("id", "clipC").append("rect")
    .attr("x", left).attr("y", top).attr("width", right - left).attr("height", bottom - top);
  grid(g, y, countTicks);
  roundMarkers(g, top, bottom, 24);
  const plot = g.append("g").attr("clip-path", "url(#clipC)");
  const red = "#ff0000", blue = "#0000ff";

  const bands = [[lowerGomez, upperGomez, red], [lowerMarksman, upperMarksman, blue]];
  bands.forEach(([lo, hi, c]) => {
    const pts = times.map((t, j) => ({t, lo: lo[j], hi: hi[j]}));
    plot.append("path").datum(pts)
      .attr("d", d3.area().x(d => x(d.t)).y0(d => y(d.lo)).y1(d => y(d.hi)))
      .attr("fill", c).attr("fill-opacity", 0.13)
      .attr("stroke", c).attr("stroke-opacity", 0.12).attr("stroke-width", 1.5);
  });
  const line = d3.line().x(d => x(d.t)).y(d => y(d.v));
  const series = [
    [truthGomez, red, null], [truthMarksman, blue, null],
    [predGomez, red, "2.8,4.6"], [predMarksman, blue, "2.8,4.6"]
  ];
  series.forEach(([vals, c, dash]) => {
    plot.append("path").datum(times.map((t, j) => ({t, v: vals[j]}))).attr("d", line)
      .attr("fill", "none").attr("stroke", c)
      .attr("stroke-opacity", dash ? 0.6 : 0.72).attr("stroke-width", dash ? 2.9 : 3)
      .attr("stroke-dasharray", dash).attr("stroke-linejoin", "round");
  });

  const ya = g.append("g").attr("transform", `translate(${left},0)`)
    .call(d3.axisLeft(y).tickValues(countTicks).tickSize(7).tickPadding(9));
  styleAxis(ya);
  const xa = g.append("g").attr("transform", `translate(0,${bottom})`)
    .call(d3.axisBottom(x).tickValues(xTicks).tickFormat(d3.format("d")).tickSize(7).tickPadding(7));
  styleAxis(xa);
  frame(g, top, bottom);

  g.append("text").attr("transform", `translate(45,${(top + bottom) / 2}) rotate(-90)`)
    .attr("text-anchor", "middle").attr("font-size", 13.5).attr("fill", "#111").text("Count");
  g.append("text").attr("x", (left + right) / 2).attr("y", 1471).attr("text-anchor", "middle")
    .attr("font-size", 21).attr("fill", "#111").text("Fight time (seconds)");

  const legendItems = [
    ["Truth JAYCOB GOMEZ: 7", red, null],
    ["Truth COREY MARKSMAN: 14", blue, null],
    ["Predicted JAYCOB GOMEZ: 13.8", red, "2.8,4.6"],
    ["Predicted COREY MARKSMAN: 18.8", blue, "2.8,4.6"]
  ];
  const lg = g.append("g");
  lg.append("rect").attr("x", 100).attr("y", 1114).attr("width", 306).attr("height", 94)
    .attr("rx", 3).attr("fill", "#fff").attr("fill-opacity", 0.8)
    .attr("stroke", "#cccccc").attr("stroke-width", 1.2);
  legendItems.forEach(([lab, c, dash], i) => {
    const cy = 1126.7 + i * 22.2;
    lg.append("line").attr("x1", 105.6).attr("x2", 136).attr("y1", cy).attr("y2", cy)
      .attr("stroke", c).attr("stroke-opacity", dash ? 0.6 : 0.72).attr("stroke-width", 3)
      .attr("stroke-dasharray", dash);
    lg.append("text").attr("x", 147).attr("y", cy + 5).attr("font-size", 14)
      .attr("fill", "#111").text(lab);
  });
})();
</script>
</body>
</html>
